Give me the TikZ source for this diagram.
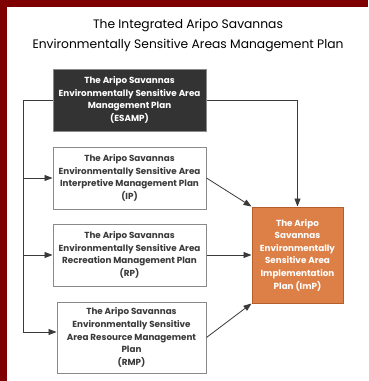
\documentclass[tikz,border=0pt]{standalone}
\usepackage{fontspec}
\setmainfont{Poppins}
\usetikzlibrary{arrows.meta}
\definecolor{framered}{HTML}{7F0000}
\definecolor{darkbox}{HTML}{333333}
\definecolor{boxline}{HTML}{8A8A8A}
\definecolor{linecol}{HTML}{3A3A3A}
\definecolor{impfill}{HTML}{DD8047}
\definecolor{impline}{HTML}{B35F2C}
\pgfdeclarelayer{bg}
\pgfdeclarelayer{lines}
\pgfsetlayers{bg,lines,main}
\tikzset{
  plan/.style={draw=boxline, line width=1pt, fill=white, align=center, text=linecol,
    font=\bfseries\fontsize{8.8}{12.6}\selectfont, inner sep=0pt},
  darkplan/.style={plan, fill=darkbox, text=white},
  impplan/.style={plan, fill=impfill, draw=impline, text=white},
  conn/.style={draw=linecol, line width=0.8pt},
  arr/.style={conn, -{Triangle[length=8pt,width=6pt]}}
}
\begin{document}
\begin{tikzpicture}[x=1pt,y=-1pt]
\useasboundingbox (0,0) rectangle (368,381);
\begin{pgfonlayer}{bg}
\fill[white] (0,0) rectangle (368,381);
\fill[framered] (0,0) rectangle (368,7);
\fill[framered] (0,0) rectangle (7,381);
\end{pgfonlayer}
\node[font=\fontsize{12.3}{20}\selectfont, align=center, text=black] (title) at (188,35)
  {The Integrated Aripo Savannas\\Environmentally Sensitive Areas Management Plan};
\node[darkplan, minimum width=153pt, minimum height=62pt] (esamp) at (129.5,100)
  {The Aripo Savannas\\Environmentally Sensitive Area\\Management Plan\\(ESAMP)};
\node[plan, minimum width=153pt, minimum height=62pt] (ip) at (129.5,178)
  {The Aripo Savannas\\Environmentally Sensitive Area\\Interpretive Management Plan\\(IP)};
\node[plan, minimum width=153pt, minimum height=62pt] (rp) at (129.5,255)
  {The Aripo Savannas\\Environmentally Sensitive Area\\Recreation Management Plan\\(RP)};
\node[plan, minimum width=149pt, minimum height=71pt] (rmp) at (131.5,337.5)
  {The Aripo Savannas\\Environmentally Sensitive\\Area Resource Management\\Plan\\(RMP)};
\node[impplan, minimum width=91pt, minimum height=96pt] (imp) at (297.5,255)
  {The Aripo\\Savannas\\Environmentally\\Sensitive Area\\Implementation\\Plan (ImP)};
\coordinate (tl) at (23,100);
\coordinate (tr) at (297.5,100);
\coordinate (bl) at (23,332);
\begin{pgfonlayer}{lines}
\draw[conn] (tl) -- (tr);
\draw[conn] (tl) -- (bl);
\end{pgfonlayer}
\draw[arr] (tr) -- (imp.north);
\draw[arr] (tl |- ip.west) -- (ip.west);
\draw[arr] (tl |- rp.west) -- (rp.west);
\draw[arr] (bl) -- (bl -| rmp.west);
\draw[arr] (ip.east) -- (imp.north west);
\draw[arr] (rp.east) -- (imp.west);
\draw[arr] (rmp.east) -- (imp.south west);
\end{tikzpicture}
\end{document}
